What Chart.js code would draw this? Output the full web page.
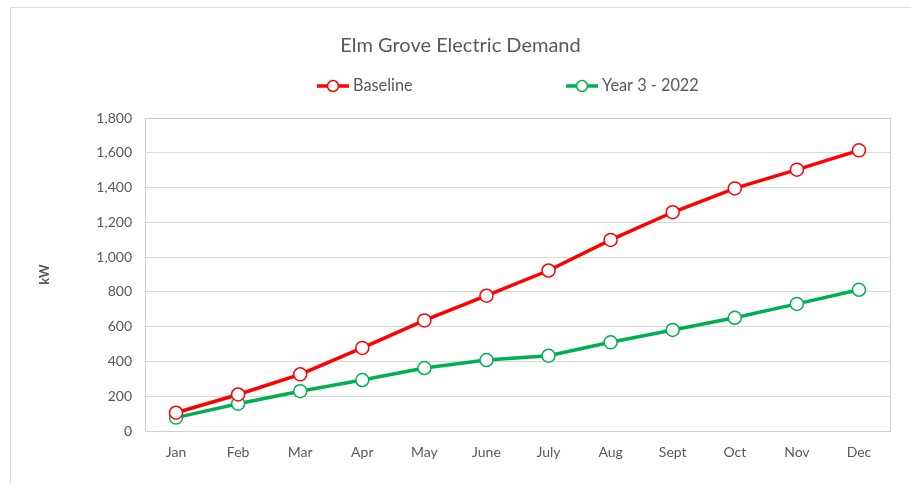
<!DOCTYPE html>
<html>
<head>
<meta charset="utf-8">
<script src="https://cdn.jsdelivr.net/npm/chart.js@4/dist/chart.umd.min.js"></script>
<style>
  html, body { margin: 0; padding: 0; background: #ffffff; }
  #wrap { position: relative; width: 911px; height: 484px; }
</style>
</head>
<body>
<div id="wrap"><canvas id="c" width="911" height="484"></canvas></div>
<script>
const months = ["Jan", "Feb", "Mar", "Apr", "May", "June", "July", "Aug", "Sept", "Oct", "Nov", "Dec"];
const baseline = [105, 210, 326, 478, 636, 778, 923, 1099, 1258, 1395, 1503, 1614];
const year3 = [77, 157, 229, 293, 362, 408, 433, 510, 581, 651, 731, 812];
const seriesNames = ["Baseline", "Year 3 - 2022"];
const seriesColors = ["#FF0000", "#00B050"];
const chartTitle = "Elm Grove Electric Demand";
const yAxisTitle = "kW";

const FONT = "Lato, 'Open Sans', sans-serif";
const TEXT = "#595959";

const frame = {
  id: 'frame',
  beforeDraw(chart) {
    const ctx = chart.ctx;
    ctx.save();
    ctx.fillStyle = '#ffffff';
    ctx.fillRect(0, 0, chart.width, chart.height);
    ctx.strokeStyle = '#d9d9d9';
    ctx.lineWidth = 1;
    ctx.strokeRect(10.5, 7.5, chart.width + 20, chart.height + 20);
    ctx.restore();
  },
  beforeDatasetsDraw(chart) {
    const a = chart.chartArea, ctx = chart.ctx;
    ctx.save();
    ctx.strokeStyle = '#d0d0d0';
    ctx.lineWidth = 1;
    ctx.strokeRect(Math.round(a.left) + 0.5, Math.round(a.top) + 0.5, Math.round(a.right - a.left), Math.round(a.bottom - a.top));
    ctx.restore();
  }
};

const excelLegend = {
  id: 'excelLegend',
  afterDraw(chart) {
    const ctx = chart.ctx;
    const starts = [317, 566];
    const y = 86;
    ctx.save();
    chart.data.datasets.forEach((ds, i) => {
      const x0 = starts[i];
      ctx.strokeStyle = ds.borderColor;
      ctx.lineWidth = 3.5;
      ctx.beginPath();
      ctx.moveTo(x0, y);
      ctx.lineTo(x0 + 32, y);
      ctx.stroke();
      ctx.beginPath();
      ctx.arc(x0 + 16, y, 5.5, 0, Math.PI * 2);
      ctx.fillStyle = '#ffffff';
      ctx.fill();
      ctx.lineWidth = 1.5;
      ctx.stroke();
      ctx.fillStyle = TEXT;
      ctx.font = "16.3px " + FONT;
      ctx.textAlign = 'left';
      ctx.textBaseline = 'middle';
      ctx.fillText(ds.label, x0 + 36, y);
    });
    ctx.restore();
  }
};

new Chart(document.getElementById('c'), {
  type: 'line',
  data: {
    labels: months,
    datasets: [
      {
        label: seriesNames[0],
        data: baseline,
        borderColor: seriesColors[0],
        backgroundColor: '#ffffff',
        borderWidth: 3.5,
        pointRadius: 6.5,
        pointBorderWidth: 1.5,
        pointBackgroundColor: '#ffffff',
        pointBorderColor: seriesColors[0],
        tension: 0
      },
      {
        label: seriesNames[1],
        data: year3,
        borderColor: seriesColors[1],
        backgroundColor: '#ffffff',
        borderWidth: 3.5,
        pointRadius: 6.5,
        pointBorderWidth: 1.5,
        pointBackgroundColor: '#ffffff',
        pointBorderColor: seriesColors[1],
        tension: 0
      }
    ]
  },
  options: {
    responsive: false,
    animation: false,
    layout: { padding: { left: 31, right: 21, top: 0, bottom: 0 } },
    plugins: {
      legend: { display: false },
      tooltip: { enabled: false },
      title: {
        display: true,
        text: chartTitle,
        color: TEXT,
        font: { family: FONT, size: 20, weight: 'normal', lineHeight: 1.2 },
        padding: { top: 33.5, bottom: 60.5 }
      }
    },
    scales: {
      x: {
        offset: true,
        grid: { display: false, drawTicks: false },
        border: { display: false },
        ticks: { color: TEXT, font: { family: FONT, size: 14 }, padding: 13, maxRotation: 0 },
        afterFit(s) { s.height = 53; }
      },
      y: {
        min: 0,
        max: 1800,
        grid: { color: '#d9d9d9', lineWidth: 1, drawTicks: false },
        border: { display: false },
        ticks: {
          stepSize: 200,
          color: TEXT,
          font: { family: FONT, size: 14 },
          padding: 13,
          callback: (v) => v.toLocaleString('en-US')
        },
        title: {
          display: true,
          text: yAxisTitle,
          color: TEXT,
          font: { family: FONT, size: 13, weight: 'bold', lineHeight: 1.2 },
          padding: { top: 6, bottom: 0 }
        },
        afterFit(s) { s.width = 114; }
      }
    }
  },
  plugins: [frame, excelLegend]
});
</script>
</body>
</html>
